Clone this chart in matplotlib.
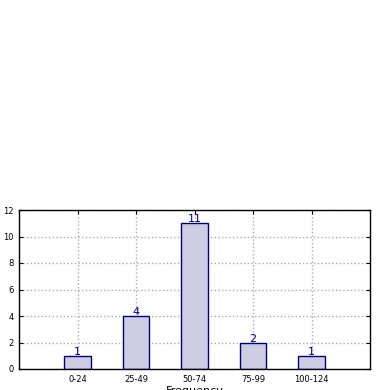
import matplotlib
matplotlib.use("Agg")
import matplotlib.pyplot as plt
import numpy as np

categories = ["0-24", "25-49", "50-74", "75-99", "100-124"]
counts = [1, 4, 11, 2, 1]
y_ticks = [0, 2, 4, 6, 8, 10, 12]

fig = plt.figure(figsize=(3.9, 3.9), dpi=100)
ax = fig.add_axes([19/390, 21/390, 351/390, 159/390])

x = np.arange(len(categories))
ax.bar(x, counts, width=0.45, color="#cccce3", edgecolor="#00007f", linewidth=1.0, zorder=2)
for xi, c in zip(x, counts):
    ax.text(xi, c + 0.3, str(c), ha="center", va="center", color="#00007f", fontsize=8, zorder=3)

ax.set_xlim(-1, 5)
ax.set_ylim(0, 12)
ax.set_xticks(x)
ax.set_xticklabels(categories, fontsize=6)
ax.set_yticks(y_ticks)
ax.set_yticklabels([str(t) for t in y_ticks], fontsize=6)
ax.tick_params(direction="in", top=True, right=True, length=3, width=0.8, pad=4)
ax.grid(True, linestyle=":", color="#aaaaaa", linewidth=1.0, zorder=0)
ax.set_axisbelow(True)
for s in ax.spines.values():
    s.set_color("black")
    s.set_linewidth(1.0)
ax.set_xlabel("Frequency", fontsize=8, labelpad=2)
ax.set_ylabel("Observations", fontsize=8, labelpad=4)

fig.savefig("out.png", dpi=100)
